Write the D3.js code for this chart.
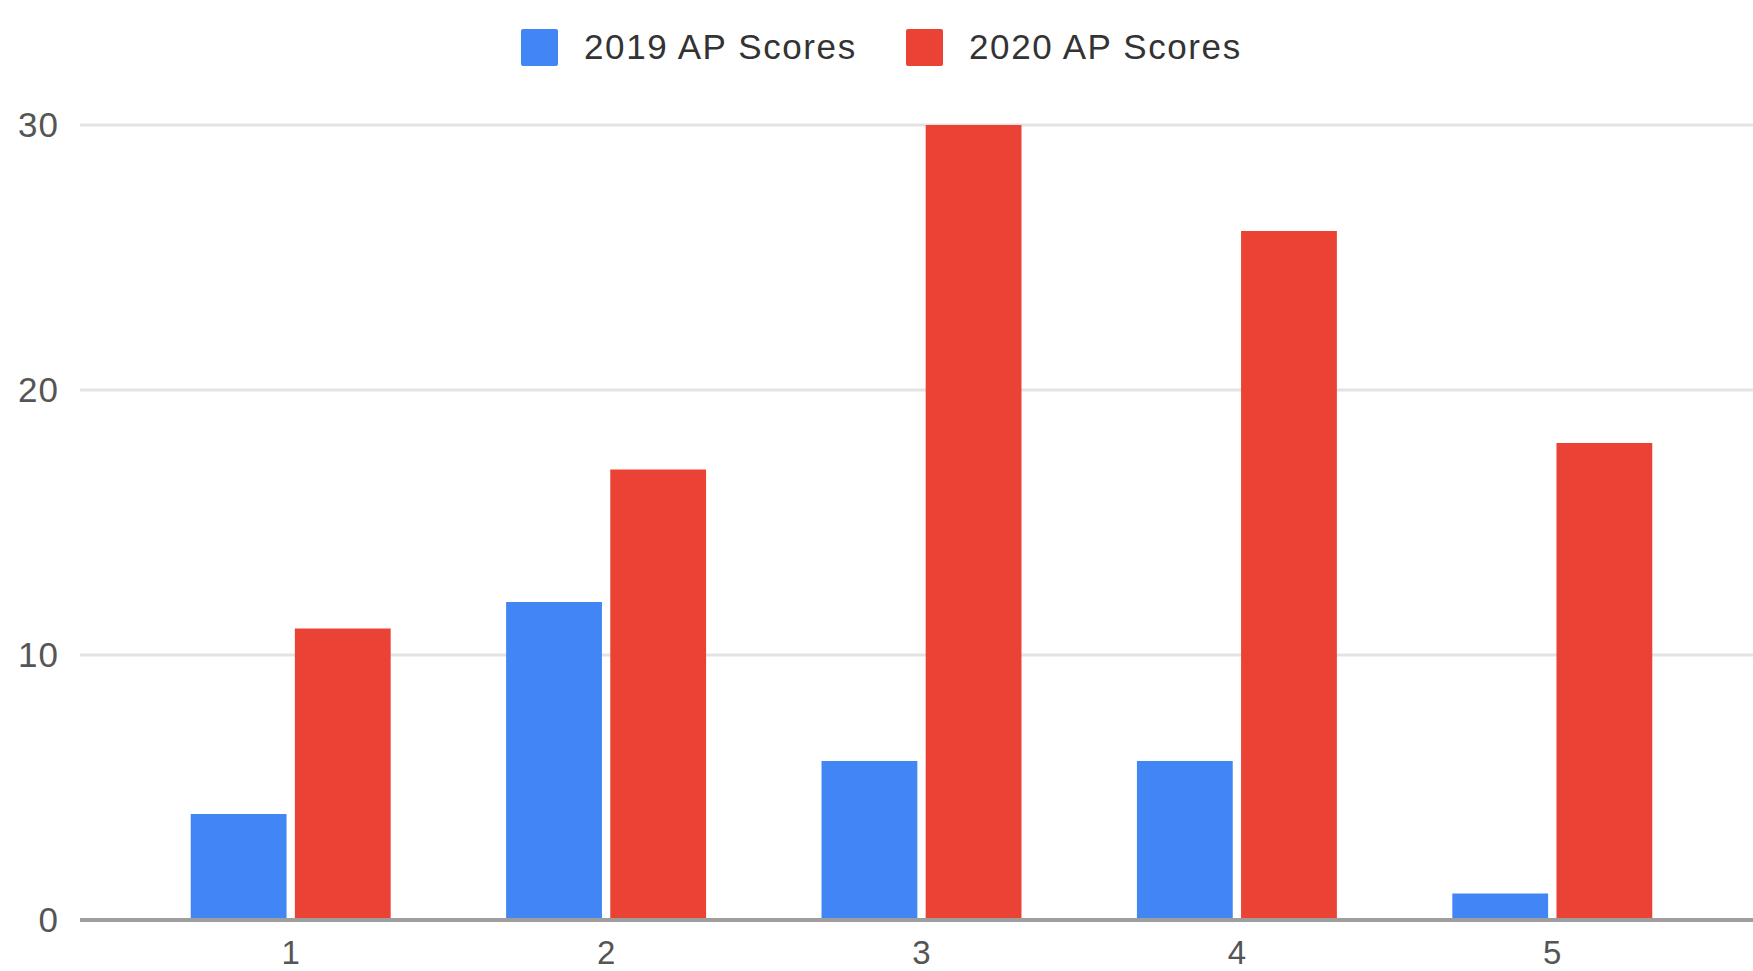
<!DOCTYPE html>
<html>
<head>
<meta charset="utf-8">
<script src="https://cdn.jsdelivr.net/npm/d3@7"></script>
<style>
  html, body { margin: 0; padding: 0; background: #fff; overflow: hidden; }
  text { font-family: "Liberation Sans", Arial, sans-serif; }
</style>
</head>
<body>
<svg width="1753" height="971"></svg>
<script>
// chart data
var categories = ["1", "2", "3", "4", "5"];
var seriesNames = ["2019 AP Scores", "2020 AP Scores"];
var scores2019 = [4, 12, 6, 6, 1];
var scores2020 = [11, 17, 30, 26, 18];
var yTicks = [0, 10, 20, 30];
var colors = ["#4285f4", "#ea4335"];

var svg = d3.select("svg"),
    width = +svg.attr("width"),
    height = +svg.attr("height");

var plotLeft = 80, plotTop = 125, plotBottom = 920;

var y = d3.scaleLinear()
    .domain([0, 30])
    .range([plotBottom, plotTop]);

var x0 = d3.scaleBand()
    .domain(categories)
    .range([133, 1710])
    .paddingInner(0.366)
    .paddingOuter(0.183);

var x1 = d3.scaleBand()
    .domain(seriesNames)
    .range([0, x0.bandwidth()])
    .paddingInner(0.08);

var rows = categories.map(function(c, i) {
    return { cat: c, values: [scores2019[i], scores2020[i]] };
});

//gridlines
svg.append("g")
    .selectAll("line")
    .data(yTicks.filter(function(d) { return d > 0; }))
    .enter().append("line")
    .attr("x1", plotLeft)
    .attr("x2", width)
    .attr("y1", function(d) { return y(d); })
    .attr("y2", function(d) { return y(d); })
    .attr("stroke", "#e3e3e3")
    .attr("stroke-width", 3);

//y tick labels
svg.append("g")
    .selectAll("text")
    .data(yTicks)
    .enter().append("text")
    .attr("x", 59)
    .attr("y", function(d) { return y(d); })
    .attr("dy", "0.35em")
    .attr("text-anchor", "end")
    .attr("font-size", 35)
    .attr("letter-spacing", 1)
    .attr("fill", "#555")
    .text(function(d) { return d; });

//bars
var group = svg.append("g")
    .selectAll("g")
    .data(rows)
    .enter().append("g")
    .attr("transform", function(d) {
        return "translate(" + x0(d.cat) + ",0)";
    });

group.selectAll("rect")
    .data(function(d) {
        return d.values.map(function(v, i) {
            return { name: seriesNames[i], value: v, idx: i };
        });
    })
    .enter().append("rect")
    .attr("x", function(d) { return x1(d.name); })
    .attr("y", function(d) { return y(d.value); })
    .attr("width", x1.bandwidth())
    .attr("height", function(d) { return y(0) - y(d.value); })
    .attr("fill", function(d) { return colors[d.idx]; });

//baseline
svg.append("line")
    .attr("x1", plotLeft)
    .attr("x2", width)
    .attr("y1", y(0))
    .attr("y2", y(0))
    .attr("stroke", "#9e9e9e")
    .attr("stroke-width", 4);

//x labels (kept just inside the bottom edge)
svg.append("g")
    .selectAll("text")
    .data(categories)
    .enter().append("text")
    .attr("x", function(d) { return x0(d) + x0.bandwidth() / 2; })
    .attr("y", 964)
    .attr("text-anchor", "middle")
    .attr("font-size", 33)
    .attr("fill", "#555")
    .text(function(d) { return d; });

//legend
var legendX = [521, 906];
var legend = svg.append("g")
    .selectAll("g")
    .data(seriesNames)
    .enter().append("g")
    .attr("transform", function(d, i) {
        return "translate(" + legendX[i] + ",29)";
    });

legend.append("rect")
    .attr("width", 37)
    .attr("height", 37)
    .attr("rx", 2)
    .attr("fill", function(d, i) { return colors[i]; });

legend.append("text")
    .attr("x", 63)
    .attr("y", 18)
    .attr("dy", "0.35em")
    .attr("font-size", 35)
    .attr("letter-spacing", 1.6)
    .attr("fill", "#333")
    .text(function(d) { return d; });
</script>
</body>
</html>
